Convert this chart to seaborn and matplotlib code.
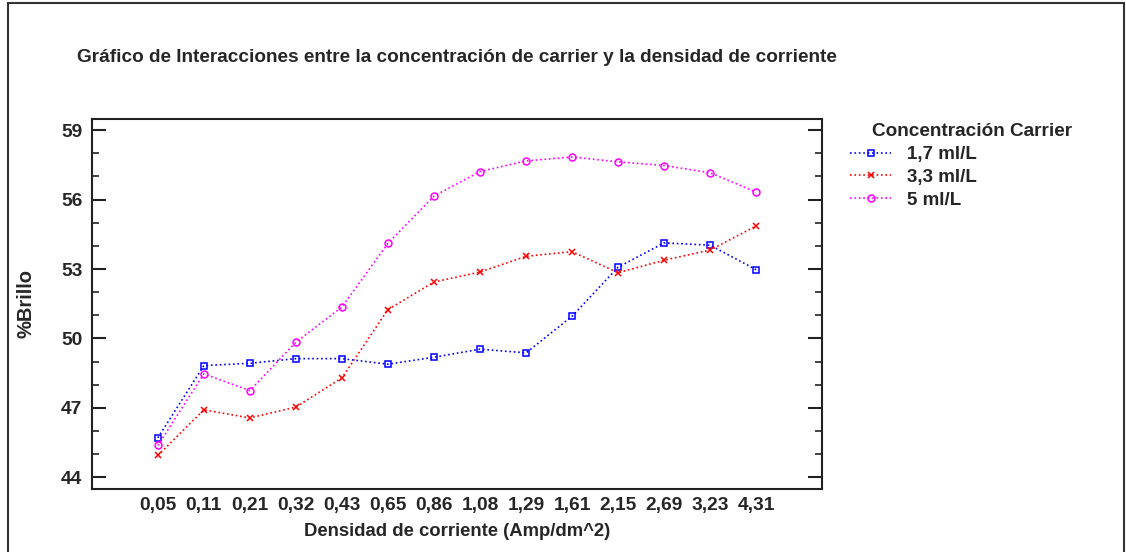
import matplotlib
matplotlib.use("Agg")
import matplotlib.pyplot as plt
from matplotlib.patches import Rectangle
from matplotlib.ticker import MultipleLocator
import pandas as pd
import seaborn as sns

# densidad de corriente (Amp/dm^2), as printed on the axis
densidad = ["0,05", "0,11", "0,21", "0,32", "0,43", "0,65", "0,86",
            "1,08", "1,29", "1,61", "2,15", "2,69", "3,23", "4,31"]

brillo_17 = [45.71, 48.83, 48.93, 49.13, 49.13, 48.89, 49.19,
             49.54, 49.38, 50.96, 53.08, 54.13, 54.03, 52.97]
brillo_33 = [44.95, 46.92, 46.57, 47.04, 48.30, 51.25, 52.44,
             52.87, 53.55, 53.75, 52.84, 53.38, 53.82, 54.86]
brillo_5 = [45.38, 48.47, 47.75, 49.84, 51.36, 54.11, 56.15,
            57.21, 57.67, 57.84, 57.63, 57.47, 57.16, 56.32]

series = ["1,7 ml/L", "3,3 ml/L", "5 ml/L"]
values = [brillo_17, brillo_33, brillo_5]
colors = ["#0000FF", "#FF0000", "#FF00FF"]
markers = ["s", "x", "o"]

rows = []
for name, vals in zip(series, values):
    for i, v in enumerate(vals):
        rows.append({"pos": i, "brillo": v, "serie": name})
df = pd.DataFrame(rows)

sns.set_style("white")
plt.rcParams["font.family"] = ["Liberation Sans", "DejaVu Sans"]
plt.rcParams["font.weight"] = "bold"

fig = plt.figure(figsize=(11.26, 5.52), dpi=100)
W, H = 1126, 552
ax = fig.add_axes([92 / W, 1 - 489 / H, (822 - 92) / W, (489 - 119) / H])

for name, col, mk in zip(series, colors, markers):
    sns.lineplot(data=df[df["serie"] == name], x="pos", y="brillo", ax=ax,
                 color=col, marker=mk, linestyle=":", linewidth=1.2,
                 markersize=5, mfc="none", mec=col, mew=1.1,
                 label=name, legend=False)

ax.set_xlim(-1.43, 14.43)
ax.set_ylim(43.5, 59.48)
ax.set_xticks(range(len(densidad)))
ax.set_xticklabels(densidad, fontsize=13.8, fontweight="bold")
ax.yaxis.set_minor_locator(MultipleLocator(1))
ax.set_yticks([44, 47, 50, 53, 56, 59])
ax.tick_params(axis="x", length=0, pad=6)
ax.tick_params(axis="y", which="major", direction="in", length=10, width=1.5,
               right=True, left=True, pad=7, labelsize=13.8, color="#222222")
ax.tick_params(axis="y", which="minor", direction="in", length=5, width=1.2,
               right=True, left=True, color="#222222")
for lab in ax.get_yticklabels():
    lab.set_fontweight("bold")
for sp in ax.spines.values():
    sp.set_linewidth(1.5)
    sp.set_color("#222222")

ax.set_xlabel("Densidad de corriente (Amp/dm^2)", fontsize=13.3,
              fontweight="bold", labelpad=6)
ax.set_ylabel("%Brillo", fontsize=14.5, fontweight="bold", labelpad=18)
ax.set_title("Gráfico de Interacciones entre la concentración de carrier y la densidad de corriente",
             fontsize=13.7, fontweight="bold", pad=41)

fig.text(872 / W, 1 - 132 / H, "Concentración Carrier", fontsize=13.7,
         fontweight="bold", va="center", ha="left")
handles, labels = ax.get_legend_handles_labels()
fig.legend(handles, labels, loc="upper left",
           bbox_to_anchor=(850 / W, 1 - 146 / H), frameon=False,
           handlelength=2.2, handletextpad=0.85,
           borderpad=0, borderaxespad=0, labelspacing=0.3,
           prop={"weight": "bold", "size": 13.5})

fig.patches.append(Rectangle((8 / W, -0.02), (1124 - 8) / W, 1 - 3 / H + 0.02,
                             transform=fig.transFigure, fill=False,
                             edgecolor="#333333", linewidth=1.5))

fig.savefig("out.png", dpi=100, facecolor="white")
